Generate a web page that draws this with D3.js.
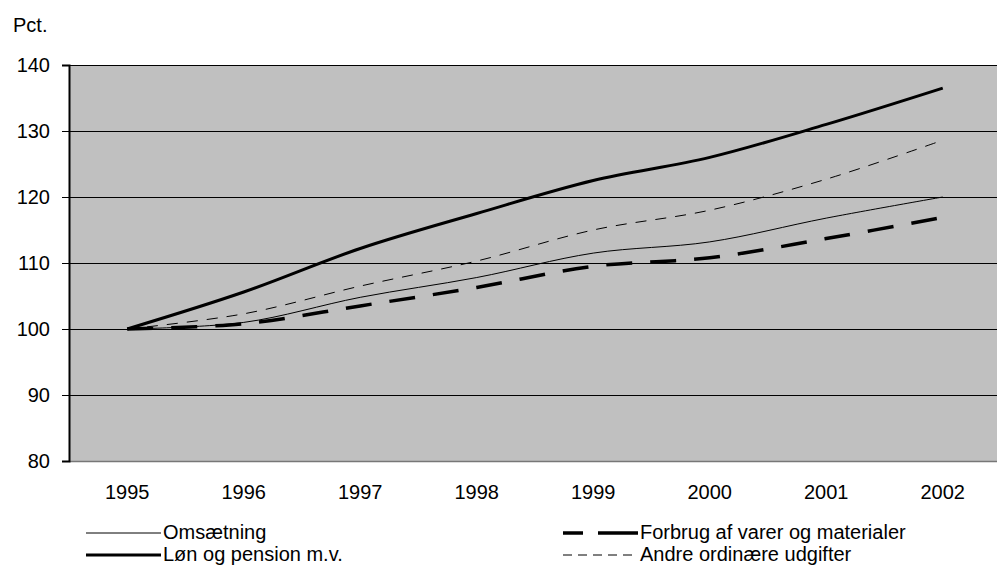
<!DOCTYPE html>
<html>
<head>
<meta charset="utf-8">
<script src="https://cdn.jsdelivr.net/npm/d3@7"></script>
<style>
  html, body { margin: 0; padding: 0; background: #fff; }
  svg { display: block; font-family: "Liberation Sans", Arial, sans-serif; }
</style>
</head>
<body>
<svg id="chart" width="997" height="567"></svg>
<script>
const years = ["1995", "1996", "1997", "1998", "1999", "2000", "2001", "2002"];
const omsaetning = [100, 101.0, 104.8, 107.8, 111.5, 113.2, 116.8, 120.0];
const loen = [100, 105.6, 112.2, 117.5, 122.5, 126.0, 131.0, 136.5];
const forbrug = [100, 100.8, 103.5, 106.3, 109.5, 110.8, 113.7, 116.9];
const andre = [100, 102.3, 106.5, 110.3, 115.0, 118.0, 122.7, 128.6];
const yTicks = [80, 90, 100, 110, 120, 130, 140];
const seriesNames = ["Omsætning", "Løn og pension m.v.", "Forbrug af varer og materialer", "Andre ordinære udgifter"];

(function () {
const FS = 20;
const svg = d3.select("#chart");
const pLeft = 69, pRight = 1001, pTop = 65, pBottom = 461;

const x = d3.scaleBand().domain(years).range([pLeft, pRight]);
const y = d3.scaleLinear().domain([80, 140]).range([pBottom, pTop]);

// plot background
svg.append("rect").attr("x", pLeft).attr("y", pTop)
  .attr("width", pRight - pLeft).attr("height", pBottom - pTop)
  .attr("fill", "#c0c0c0");

// gridlines
svg.append("g").selectAll("line").data(yTicks.filter(d => d > 80)).join("line")
  .attr("x1", pLeft).attr("x2", pRight)
  .attr("y1", d => y(d)).attr("y2", d => y(d))
  .attr("stroke", "#000").attr("stroke-width", 1).attr("shape-rendering", "crispEdges");

// x axis
const xAxis = d3.axisBottom(x).tickSize(0).tickPadding(24);
const gx = svg.append("g").attr("transform", `translate(0,${pBottom})`).call(xAxis);
gx.select(".domain").attr("stroke", "#777").attr("stroke-width", 1.5);
gx.selectAll(".tick text").attr("font-size", FS).attr("fill", "#000")
  .attr("font-family", "Liberation Sans, Arial, sans-serif");

// y axis
const yAxis = d3.axisLeft(y).tickValues(yTicks).tickSize(7).tickPadding(12);
const gy = svg.append("g").attr("transform", `translate(${pLeft},0)`).call(yAxis);
gy.select(".domain").attr("stroke", "#000").attr("stroke-width", 2);
gy.selectAll(".tick line").attr("stroke", "#000");
gy.selectAll(".tick text").attr("font-size", FS).attr("fill", "#000")
  .attr("font-family", "Liberation Sans, Arial, sans-serif");

// Pct. label
svg.append("text").attr("x", 13).attr("y", 32).attr("font-size", FS).text("Pct.");

const styles = [
  { data: omsaetning, width: 1, dash: null, ldash: null },
  { data: loen, width: 3, dash: null, ldash: null },
  { data: forbrug, width: 3.5, dash: "26,18", ldash: "20,15,40" },
  { data: andre, width: 1, dash: "11,9", ldash: "9,6" }
];

const line = d3.line()
  .x((d, i) => x(years[i]) + x.bandwidth() / 2)
  .y(d => y(d))
  .curve(d3.curveCatmullRom.alpha(0.5));

svg.append("g").selectAll("path").data(styles).join("path")
  .attr("d", s => line(s.data))
  .attr("fill", "none")
  .attr("stroke", "#000")
  .attr("stroke-width", s => s.width)
  .attr("stroke-dasharray", s => s.dash);

// legend
const legendPos = [
  { lx: 86, ly: 533 },
  { lx: 86, ly: 555 },
  { lx: 563, ly: 533 },
  { lx: 563, ly: 555 }
];
const lg = svg.append("g").selectAll("g").data(styles).join("g")
  .attr("transform", (s, i) => `translate(${legendPos[i].lx},${legendPos[i].ly})`);
lg.append("line").attr("x1", 0).attr("x2", 75).attr("y1", 0).attr("y2", 0)
  .attr("stroke", "#000").attr("stroke-width", s => s.width)
  .attr("stroke-dasharray", s => s.ldash);
lg.append("text").attr("x", 77).attr("y", 6).attr("font-size", FS)
  .text((s, i) => seriesNames[i]);
})();
</script>
</body>
</html>
